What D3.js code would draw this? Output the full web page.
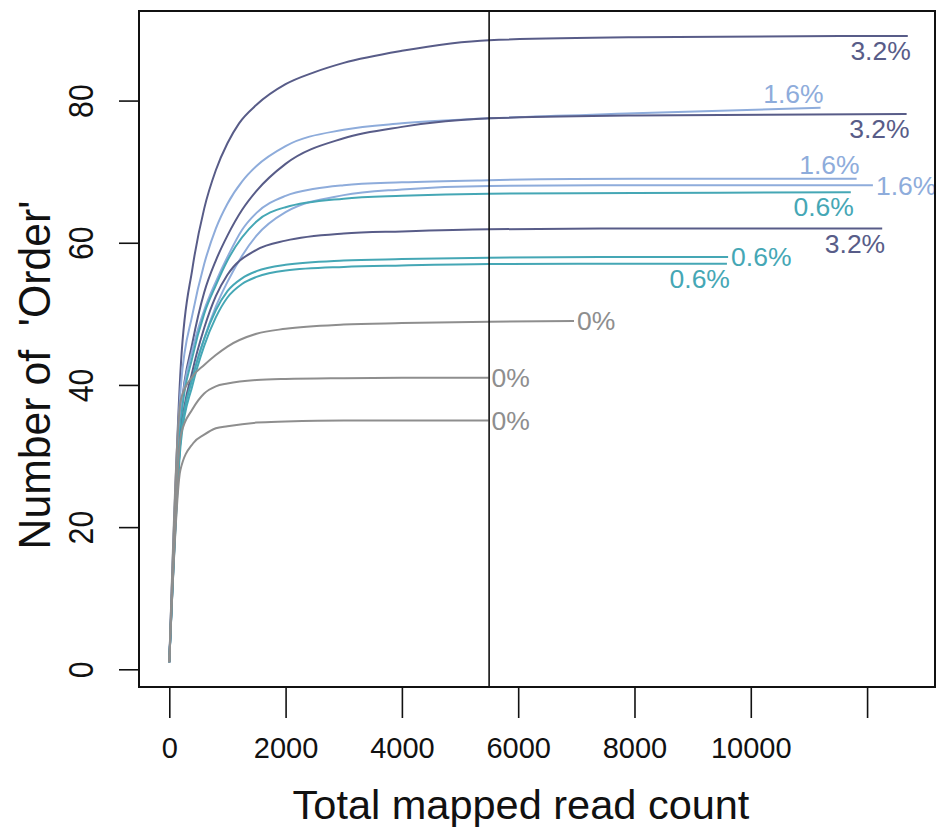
<!DOCTYPE html>
<html>
<head>
<meta charset="utf-8">
<script src="https://cdn.jsdelivr.net/npm/d3@7"></script>
<style>
  html, body { margin: 0; padding: 0; background: #ffffff; }
  svg { display: block; }
  text { font-family: "Liberation Sans", Arial, Helvetica, sans-serif; white-space: pre; }
</style>
</head>
<body>
<svg id="chart" width="938" height="832"></svg>
<script>
// ---------------- data ----------------
const xTicks = [0, 2000, 4000, 6000, 8000, 10000, 12000];
const xTickLabels = ["0", "2000", "4000", "6000", "8000", "10000", ""];
const yTicks = [0, 20, 40, 60, 80];
const xTitle = "Total mapped read count";
const yTitle = "Number of  'Order'";
const cutoff = 5500;

const seriesNames = ["A1", "B1", "A2", "B2", "B3", "C1", "A3", "C2", "C3", "D1", "D2", "D3"];
const seriesGroup = ["3.2%", "1.6%", "3.2%", "1.6%", "1.6%", "0.6%", "3.2%", "0.6%", "0.6%", "0%", "0%", "0%"];
const labelPos   = ["below", "above", "below", "above", "right", "below", "below", "right", "below", "right", "right", "right"];

// sampled read depths (x) and observed counts (y) for each curve
const xs_A1 = [0, 200, 400, 600, 800, 1000, 1200, 1500, 2000, 2500, 3000, 4000, 5500, 8000, 12700];
const ys_A1 = [1, 43, 56.5, 64.8, 70.2, 74.0, 76.8, 79.4, 82.3, 84.0, 85.3, 87.0, 88.5, 88.9, 89.1];
const xs_B1 = [0, 200, 400, 600, 800, 1000, 1250, 1500, 2000, 3000, 4000, 5500, 8000, 11200];
const ys_B1 = [1, 40, 50, 57, 62, 65.5, 68.6, 70.8, 73.6, 75.9, 76.8, 77.5, 78.2, 79.0];
const xs_A2 = [0, 200, 400, 600, 800, 1000, 1250, 1500, 2000, 3000, 4000, 5500, 8000, 12680];
const ys_A2 = [1, 36, 46, 53, 57.5, 61, 64.6, 67.3, 71.1, 74.7, 76.3, 77.5, 77.9, 78.1];
const xs_B2 = [0, 200, 400, 600, 800, 1000, 1250, 1500, 2000, 2500, 3000, 4000, 5500, 8000, 11820];
const ys_B2 = [1, 36, 45, 50.5, 54.5, 58, 61.8, 64.2, 66.6, 67.6, 68.1, 68.5, 68.8, 69.0, 69.0];
const xs_B3 = [0, 200, 400, 600, 800, 1000, 1500, 2000, 3000, 4000, 5500, 8000, 12100];
const ys_B3 = [1, 33, 41, 46.5, 51, 54.5, 61, 64.3, 66.7, 67.5, 68.0, 68.1, 68.1];
const xs_C1 = [0, 200, 400, 600, 800, 1000, 1500, 2000, 3000, 4000, 5500, 8000, 11720];
const ys_C1 = [1, 35, 44, 50, 54, 57.5, 63, 65, 66.2, 66.6, 66.9, 67.0, 67.1];
const xs_A3 = [0, 200, 400, 600, 800, 1000, 1500, 2000, 3000, 4000, 5500, 8000, 12260];
const ys_A3 = [1, 33, 42, 48, 52.5, 55.5, 59, 60.3, 61.3, 61.6, 61.9, 62.0, 62.0];
const xs_C2 = [0, 200, 400, 600, 800, 1000, 1250, 1500, 2000, 3000, 4000, 5500, 8000, 9610];
const ys_C2 = [1, 33, 41, 46.5, 50.5, 53.2, 55.0, 56.0, 56.9, 57.5, 57.7, 57.9, 58.0, 58.0];
const xs_C3 = [0, 200, 400, 600, 800, 1000, 1250, 1500, 2000, 3000, 4000, 5500, 8000, 9590];
const ys_C3 = [1, 32, 40, 45.5, 49.5, 52.3, 54.2, 55.2, 56.1, 56.6, 56.8, 57.0, 57.05, 57.05];
const xs_D1 = [0, 200, 400, 600, 800, 1000, 1500, 2000, 3000, 4000, 5500, 6960];
const ys_D1 = [1, 38, 41.2, 42.8, 44.2, 45.4, 47.2, 47.9, 48.5, 48.7, 48.9, 49.0];
const xs_D2 = [0, 200, 400, 600, 800, 1000, 1500, 2000, 3000, 4000, 5490];
const ys_D2 = [1, 33, 36.6, 38.8, 39.8, 40.2, 40.7, 40.85, 40.95, 41.0, 41.0];
const xs_D3 = [0, 190, 410, 600, 800, 1000, 1500, 2000, 3000, 4000, 5490];
const ys_D3 = [1, 28, 31.8, 33.0, 33.9, 34.2, 34.7, 34.85, 35.0, 35.0, 35.0];

const seriesX = [xs_A1, xs_B1, xs_A2, xs_B2, xs_B3, xs_C1, xs_A3, xs_C2, xs_C3, xs_D1, xs_D2, xs_D3];
const seriesY = [ys_A1, ys_B1, ys_A2, ys_B2, ys_B3, ys_C1, ys_A3, ys_C2, ys_C3, ys_D1, ys_D2, ys_D3];

const groupColor = {"3.2%": "#585c88", "1.6%": "#8eacdb", "0.6%": "#45a7b5", "0%": "#8e8e8e"};

// ---------------- layout ----------------
const svg = d3.select("#chart");
const box = {left: 139, right: 935, top: 11, bottom: 687};

const x = d3.scaleLinear().domain([-521, 13168]).range([box.left, box.right]);
const y = d3.scaleLinear().domain([-2.49, 92.6]).range([box.bottom, box.top]);

// curves
const line = d3.line().x(d => x(d[0])).y(d => y(d[1])).curve(d3.curveMonotoneX);
const gCurves = svg.append("g");
seriesNames.forEach((name, i) => {
  const pts = seriesX[i].map((v, j) => [v, seriesY[i][j]]);
  gCurves.append("path")
    .attr("d", line(pts))
    .attr("fill", "none")
    .attr("stroke", groupColor[seriesGroup[i]])
    .attr("stroke-width", 2)
    .attr("stroke-linejoin", "round");
});

// labels
seriesNames.forEach((name, i) => {
  const xe = x(seriesX[i][seriesX[i].length - 1]);
  const ye = y(seriesY[i][seriesY[i].length - 1]);
  const t = svg.append("text")
    .text(seriesGroup[i])
    .attr("fill", groupColor[seriesGroup[i]])
    .attr("font-size", 26.5);
  if (labelPos[i] === "below") {
    t.attr("x", xe + 3).attr("y", ye + 24).attr("text-anchor", "end");
  } else if (labelPos[i] === "above") {
    t.attr("x", xe + 3).attr("y", ye - 4.5).attr("text-anchor", "end");
  } else {
    t.attr("x", xe + 3).attr("y", ye + 9.5).attr("text-anchor", "start");
  }
});

// cutoff vertical line
svg.append("line")
  .attr("x1", x(cutoff)).attr("x2", x(cutoff))
  .attr("y1", box.top).attr("y2", box.bottom)
  .attr("stroke", "#111").attr("stroke-width", 1.6);

// box
svg.append("rect")
  .attr("x", box.left).attr("y", box.top)
  .attr("width", box.right - box.left).attr("height", box.bottom - box.top)
  .attr("fill", "none").attr("stroke", "#111").attr("stroke-width", 2);

// x axis
const xAxis = d3.axisBottom(x).tickValues(xTicks).tickSize(31).tickPadding(0)
  .tickFormat((d, i) => xTickLabels[i]);
const gx = svg.append("g").attr("transform", `translate(0,${box.bottom})`).call(xAxis);
gx.select(".domain").remove();
gx.selectAll(".tick line").attr("stroke", "#111").attr("stroke-width", 1.6);
gx.selectAll(".tick text").attr("font-size", 29).attr("fill", "#111")
  .attr("y", 0).attr("dy", 0)
  .attr("transform", "translate(0,71)");

// y axis
const yAxis = d3.axisLeft(y).tickValues(yTicks).tickSize(20).tickFormat(d3.format("d"));
const gy = svg.append("g").attr("transform", `translate(${box.left},0)`).call(yAxis);
gy.select(".domain").remove();
gy.selectAll(".tick line").attr("stroke", "#111").attr("stroke-width", 1.6);
gy.selectAll(".tick text")
  .attr("font-size", 36).attr("fill", "#111")
  .attr("x", 0).attr("y", 0).attr("dy", 0)
  .attr("text-anchor", "middle")
  .attr("transform", "translate(-46,0) rotate(-90) scale(0.84,1)");

// titles
svg.append("text")
  .attr("x", 521).attr("y", 819)
  .attr("text-anchor", "middle")
  .attr("font-size", 41.5).attr("fill", "#111")
  .text(xTitle);

svg.append("text")
  .attr("transform", "translate(50,375) rotate(-90) scale(0.95,1)")
  .attr("text-anchor", "middle")
  .attr("font-size", 45).attr("fill", "#111")
  .text(yTitle);
</script>
</body>
</html>
